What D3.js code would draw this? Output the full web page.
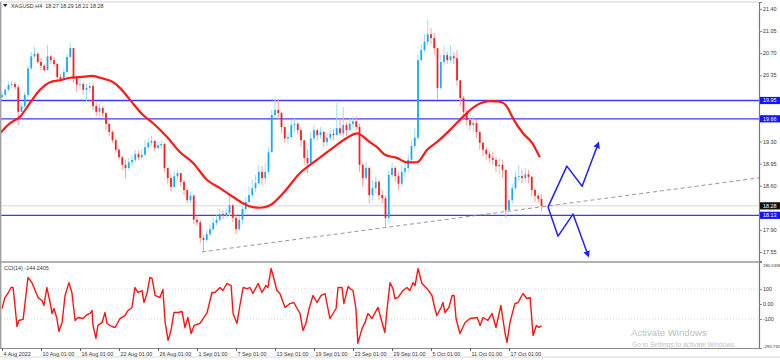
<!DOCTYPE html>
<html>
<head>
<meta charset="utf-8">
<script src="https://cdnjs.cloudflare.com/ajax/libs/d3/7.8.5/d3.min.js"></script>
<style>
  body { margin: 0; background: #fff; }
  svg text { font-family: "Liberation Sans", Arial, sans-serif; }
</style>
</head>
<body>
<div id="chart"></div>
<script>
// XAGUSD candles (each candle = 2 x H4), open = previous close
var firstOpen = 20.00;
var closes = [
  20.04, 20.12, 20.20, 20.21, 20.16, 19.77, 19.86, 20.04, 20.46, 20.65,
  20.69, 20.56, 20.50, 20.43, 20.65, 20.59, 20.53, 20.32, 20.29, 20.40,
  20.64, 20.78, 20.31, 20.20, 20.21, 20.12, 20.15, 20.18, 19.86, 19.77,
  19.83, 19.75, 19.58, 19.45, 19.32, 19.17, 19.05, 18.93, 18.88, 18.97,
  19.01, 19.10, 19.05, 19.09, 19.21, 19.28, 19.31, 19.20, 19.24, 19.26,
  18.88, 18.72, 18.58, 18.75, 18.80, 18.66, 18.53, 18.37, 18.44, 18.06,
  18.02, 17.77, 17.74, 17.83, 17.91, 18.01, 18.06, 18.15, 18.13, 18.17,
  18.29, 18.09, 17.91, 18.06, 18.23, 18.34, 18.45, 18.56, 18.64, 18.82,
  18.72, 18.82, 19.13, 19.72, 19.80, 19.75, 19.53, 19.35, 19.37, 19.56,
  19.58, 19.48, 19.32, 19.04, 18.96, 19.35, 19.48, 19.40, 19.45, 19.29,
  19.36, 19.42, 19.40, 19.51, 19.43, 19.56, 19.48, 19.58, 19.62, 19.53,
  18.93, 18.72, 18.88, 18.45, 18.56, 18.66, 18.45, 18.40, 18.09, 18.77,
  18.88, 18.75, 18.63, 18.82, 18.88, 19.01, 19.23, 19.36, 20.59, 20.75,
  20.88, 21.00, 20.94, 20.78, 20.15, 20.56, 20.67, 20.59, 20.65, 20.62,
  20.27, 19.99, 19.77, 19.64, 19.56, 19.59, 19.45, 19.28, 19.17, 19.10,
  19.04, 19.01, 18.91, 18.93, 18.85, 18.21, 18.37, 18.56, 18.74, 18.75,
  18.72, 18.78, 18.74, 18.53, 18.44, 18.39, 18.28
];
var highs = [
  20.08, 20.16, 20.24, 20.26, 20.24, 20.20, 19.91, 20.08, 20.51, 20.72,
  20.80, 20.72, 20.62, 20.53, 20.83, 20.67, 20.64, 20.54, 20.37, 20.46,
  20.69, 20.86, 20.78, 20.34, 20.29, 20.24, 20.21, 20.24, 20.23, 19.93,
  19.91, 19.86, 19.77, 19.59, 19.48, 19.36, 19.20, 19.07, 19.01, 19.04,
  19.09, 19.17, 19.15, 19.17, 19.32, 19.36, 19.39, 19.32, 19.31, 19.32,
  19.28, 18.85, 18.77, 18.82, 18.85, 18.78, 18.69, 18.56, 18.50, 18.47,
  18.12, 18.06, 17.82, 17.90, 17.99, 18.09, 18.13, 18.23, 18.21, 18.25,
  18.48, 18.31, 18.13, 18.12, 18.29, 18.42, 18.58, 18.69, 18.77, 18.93,
  18.91, 18.96, 19.21, 19.80, 20.00, 19.96, 19.77, 19.51, 19.45, 19.64,
  19.67, 19.61, 19.53, 19.32, 19.17, 19.45, 19.56, 19.51, 19.53, 19.47,
  19.45, 19.51, 19.50, 19.91, 19.67, 19.85, 19.61, 19.67, 19.70, 19.70,
  19.58, 18.96, 18.97, 18.90, 18.69, 18.74, 18.69, 18.53, 18.44, 18.85,
  18.96, 18.91, 18.82, 18.93, 18.97, 19.09, 19.32, 19.51, 20.67, 20.85,
  21.00, 21.23, 21.10, 21.02, 20.78, 20.67, 20.81, 20.72, 20.83, 20.72,
  20.75, 20.27, 20.02, 19.80, 19.69, 19.70, 19.64, 19.48, 19.29, 19.21,
  19.15, 19.13, 19.05, 19.04, 19.01, 18.85, 18.45, 18.63, 18.82, 18.93,
  18.85, 18.88, 18.85, 18.75, 18.56, 18.48, 18.46
];
var lows = [
  19.99, 20.02, 20.10, 20.15, 20.12, 19.56, 19.77, 19.83, 20.01, 20.43,
  20.62, 20.53, 20.43, 20.39, 20.43, 20.53, 20.48, 20.27, 20.24, 20.27,
  20.39, 20.62, 20.23, 20.08, 20.12, 20.04, 19.93, 20.08, 19.80, 19.70,
  19.69, 19.69, 19.48, 19.39, 19.28, 19.12, 19.01, 18.85, 18.72, 18.85,
  18.91, 18.97, 19.01, 19.01, 19.07, 19.17, 19.23, 19.15, 19.17, 19.17,
  18.82, 18.63, 18.50, 18.56, 18.69, 18.59, 18.45, 18.32, 18.32, 17.99,
  17.96, 17.69, 17.55, 17.71, 17.80, 17.88, 17.96, 18.02, 18.07, 18.09,
  18.12, 18.02, 17.83, 17.88, 17.99, 18.18, 18.32, 18.40, 18.50, 18.61,
  18.61, 18.63, 18.78, 19.13, 19.67, 19.64, 19.43, 19.28, 19.26, 19.35,
  19.45, 19.42, 19.21, 18.93, 18.80, 18.93, 19.29, 19.32, 19.34, 19.21,
  19.23, 19.31, 19.32, 19.42, 19.39, 19.37, 19.39, 19.47, 19.51, 19.47,
  18.82, 18.58, 18.69, 18.32, 18.37, 18.48, 18.37, 18.32, 17.94, 18.02,
  18.72, 18.66, 18.53, 18.59, 18.72, 18.82, 18.97, 19.20, 19.32, 20.56,
  20.72, 20.81, 20.85, 20.67, 19.96, 20.12, 20.50, 20.53, 20.56, 20.53,
  20.18, 19.86, 19.69, 19.55, 19.48, 19.45, 19.36, 19.17, 19.07, 19.01,
  18.96, 18.93, 18.82, 18.77, 18.72, 18.09, 18.18, 18.31, 18.53, 18.67,
  18.64, 18.66, 18.64, 18.44, 18.34, 18.32, 18.21
];

// moving average (red), read at bar positions
var maBar = [-0.6, 2.5, 5.5, 8.6, 11.7, 14.8, 17.8, 20.9, 24, 27.7, 30.2, 34.2, 36.3, 39.4, 43.4, 46.5,
  50.8, 54.8, 58.8, 63.1, 67.1, 71.1, 75.4, 77.2, 79.4, 82.5, 86.5, 91.7, 96.9, 101.8, 106.2, 109.2,
  113.2, 115.4, 117.8, 121.5, 124.6, 127.7, 130.8, 133.8, 137.8, 141.8, 146.2, 150.2, 153.2, 155.4,
  157.2, 160.3, 163.1, 165.5];
var maVal = [19.43, 19.59, 19.69, 19.91, 20.12, 20.24, 20.27, 20.31, 20.32, 20.34, 20.31, 20.24, 20.15, 19.96, 19.72, 19.59,
  19.37, 19.13, 18.96, 18.69, 18.56, 18.42, 18.29, 18.26, 18.25, 18.29, 18.48, 18.80, 19.01, 19.20, 19.36, 19.43,
  19.29, 19.21, 19.09, 19.04, 18.97, 18.97, 19.17, 19.29, 19.48, 19.69, 19.88, 19.94, 19.93, 19.85,
  19.67, 19.43, 19.28, 19.05];

// CCI(14)
var cciBar = [0, 0.9, 1.8, 2.8, 3.4, 4, 4.6, 5.2, 6.5, 7.1, 8, 9.2, 10.2, 11.1, 12.3, 12.9, 13.8, 14.8, 15.4, 16,
  16.9, 17.5, 18.5, 19.4, 20.6, 21.5, 22.5, 23.4, 24.9, 26.2, 27.1, 27.7, 28, 28.9, 29.5, 30.8, 31.7, 32.3, 33.8, 34.8,
  36.3, 37.8, 38.8, 40, 40.9, 41.8, 43.1, 43.7, 44.6, 45.5, 46.2, 47.1, 48.6, 49.5, 50.2, 51.1, 52, 52.9, 54.2, 55.4,
  56.3, 57.2, 58.2, 59.1, 60.9, 63.1, 64.6, 65.5, 67.1, 68, 69.2, 70.5, 71.1, 72.3, 73.2, 74.2, 75.4, 76.3, 77.2, 78.8,
  80, 81.2, 81.8, 82.8, 83.4, 84.6, 85.5, 87.1, 88.6, 89.8, 90.8, 91.7, 92.6, 93.5, 94.5, 95.7, 96.9, 98.2, 99.4, 100.9,
  102.8, 103.4, 104.6, 105.2, 106.5, 107.1, 108, 108.9, 109.5, 110.8, 111.7, 112.6, 113.8, 115.7, 116.6, 117.8, 118.5, 119.4, 120.3, 120.9,
  121.8, 123.4, 124.6, 125.5, 126.5, 127.1, 128, 129.2, 130.8, 132.3, 133.2, 133.8, 135.1, 135.7, 136.3, 137.5, 138.5, 139.1, 139.7, 140.9,
  142.5, 144, 146.2, 147.1, 148, 149.5, 150.8, 152, 153.5, 154.8, 155.4, 156.3, 157.8, 158.8, 160.3, 161.5, 162.5, 163.4, 164.4, 165.2,
  166];
var cciVal = [-30, 43, 70, 110, 110, -10, -150, -110, -103, 10, 177, 143, 90, 43, 23, -10, 110, 10, -63, -30,
  -97, -183, -123, 57, 143, 77, -110, -90, -97, -70, -63, -43, -143, -230, -143, -123, -57, -130, -150, -157,
  -97, -77, -43, -23, 110, 77, 90, 10, 70, 177, 170, 57, 43, 97, -123, -243, -177, -57, -57, -50,
  -157, -90, -197, -143, -130, -57, 77, 77, 110, 90, 137, 123, -63, -130, -10, 110, 103, 110, 70, 137,
  77, 123, 110, 237, 190, 90, 70, -23, 3, 10, -30, -63, -177, -130, -30, 57, 10, 57, 70, -97,
  -30, 110, 110, 3, 117, 103, 90, -30, -263, -163, -123, -63, -97, -23, -97, -190, -30, 143, 103, 37,
  43, 90, 110, 90, 143, 123, 237, 137, 103, 57, -30, -77, -23, 10, -57, -23, 57, 57, -97, -197,
  -123, -97, -90, -143, -90, -110, -63, -157, -10, -197, -257, -123, 3, 10, 70, 37, 43, -210, -143, -157,
  -144.2405];

var levels = [19.95, 19.66, 18.13];
var lastPrice = 18.28;
var priceTicks = [17.55, 17.90, 18.25, 18.60, 18.95, 19.30, 19.65, 20.00, 20.35, 20.70, 21.05, 21.40];
var cciTicks = [280.5396, 100, 0, -100, -293.732];
var cciTickLabels = ["280.5396", "100", "0.00", "-100", "-293.732"];
var timeTicks = [0, 12, 24, 36, 48, 60, 72, 84, 96, 108, 120, 132, 144, 156];
var timeLabels = ["4 Aug 2022", "10 Aug 01:00", "16 Aug 01:00", "22 Aug 01:00", "26 Aug 01:00", "1 Sep 01:00",
  "7 Sep 01:00", "13 Sep 01:00", "19 Sep 01:00", "23 Sep 01:00", "29 Sep 01:00", "5 Oct 01:00", "11 Oct 01:00", "17 Oct 01:00"];

// trend line anchors and projected paths
var trendBar = [61.5, 118.5];
var trendVal = [17.55, 17.94];
var upBar = [168, 173.8, 178.5, 183.4];
var upVal = [18.26, 18.91, 18.59, 19.26];
var downBar = [168, 171.1, 175.7, 180.3];
var downVal = [18.26, 17.80, 18.15, 17.50];

var svgWidth = 780;
var svgHeight = 360;
var plotLeft = 1, plotRight = 759;
var mainTop = 2, mainBottom = 262;
var cciTop = 262, cciBottom = 348;

var svg = d3.select("#chart")
  .append("svg")
  .attr("width", svgWidth)
  .attr("height", svgHeight);

var x = d3.scaleLinear().domain([0, 233]).range([2, 2 + 233 * 3.25]);
var y = d3.scaleLinear().domain([17.406, 21.511]).range([261, 2]);
var yCci = d3.scaleLinear().domain([-293.732, 280.5396]).range([cciBottom, cciTop]);

var defs = svg.append("defs");
defs.append("clipPath").attr("id", "clipMain")
  .append("rect").attr("x", plotLeft).attr("y", mainTop).attr("width", plotRight - plotLeft).attr("height", mainBottom - mainTop);
defs.append("clipPath").attr("id", "clipCci")
  .append("rect").attr("x", plotLeft).attr("y", cciTop).attr("width", plotRight - plotLeft).attr("height", cciBottom - cciTop);
defs.append("marker").attr("id", "arrowHead")
  .attr("viewBox", "0 0 10 10").attr("refX", 6).attr("refY", 5)
  .attr("markerWidth", 4.5).attr("markerHeight", 4.5).attr("orient", "auto")
  .append("path").attr("d", "M0,0 L10,5 L0,10 z").attr("fill", "#2020ff");

var main = svg.append("g").attr("clip-path", "url(#clipMain)");

// current price line
main.append("line")
  .attr("x1", plotLeft).attr("x2", plotRight)
  .attr("y1", y(lastPrice)).attr("y2", y(lastPrice))
  .attr("stroke", "#e4e4e4").attr("stroke-width", 1.5);

// horizontal levels
main.selectAll(".level").data(levels).enter().append("line")
  .attr("x1", plotLeft).attr("x2", plotRight)
  .attr("y1", d => y(d)).attr("y2", d => y(d))
  .attr("stroke", "#3a3aff").attr("stroke-width", 1.3);

// trend line, extended to the right edge
var slope = (trendVal[1] - trendVal[0]) / (trendBar[1] - trendBar[0]);
var endBar = x.domain()[1];
main.append("line")
  .attr("x1", x(trendBar[0])).attr("y1", y(trendVal[0]))
  .attr("x2", x(endBar)).attr("y2", y(trendVal[0] + slope * (endBar - trendBar[0])))
  .attr("stroke", "#8a8a8a").attr("stroke-width", 0.9).attr("stroke-dasharray", "4,3");

// candles
var candles = closes.map(function (c, i) {
  var o = i === 0 ? firstOpen : closes[i - 1];
  return { i: i, o: o, c: c, h: Math.max(highs[i], o, c), l: Math.min(lows[i], o, c) };
});
main.selectAll(".wick").data(candles).enter().append("line")
  .attr("x1", d => x(d.i)).attr("x2", d => x(d.i))
  .attr("y1", d => y(d.h)).attr("y2", d => y(d.l))
  .attr("stroke", d => d.c >= d.o ? "#9fdcff" : "#ffa0a0").attr("stroke-width", 1);
main.selectAll(".body").data(candles).enter().append("rect")
  .attr("x", d => x(d.i) - 0.9).attr("width", 1.8)
  .attr("y", d => y(Math.max(d.o, d.c)))
  .attr("height", d => Math.max(0.8, Math.abs(y(d.o) - y(d.c))))
  .attr("fill", d => d.c >= d.o ? "#18aaff" : "#ff1e1e");

// moving average
main.append("path")
  .datum(maBar.map((b, i) => [b, maVal[i]]))
  .attr("fill", "none").attr("stroke", "#ff1a1a").attr("stroke-width", 2.2)
  .attr("d", d3.line().x(d => x(d[0])).y(d => y(d[1])).curve(d3.curveMonotoneX));

// projected paths
[[upBar, upVal], [downBar, downVal]].forEach(function (p) {
  main.append("path")
    .datum(p[0].map((b, i) => [b, p[1][i]]))
    .attr("fill", "none").attr("stroke", "#2020ff").attr("stroke-width", 1.5)
    .attr("stroke-linejoin", "round")
    .attr("marker-end", "url(#arrowHead)")
    .attr("d", d3.line().x(d => x(d[0])).y(d => y(d[1])));
});

// CCI panel
var cci = svg.append("g").attr("clip-path", "url(#clipCci)");
cci.selectAll(".cciLevel").data([100, -100]).enter().append("line")
  .attr("x1", plotLeft).attr("x2", plotRight)
  .attr("y1", d => yCci(d)).attr("y2", d => yCci(d))
  .attr("stroke", "#c8c8c8").attr("stroke-width", 0.8).attr("stroke-dasharray", "1,2");
cci.append("path")
  .datum(cciBar.map((b, i) => [b, cciVal[i]]))
  .attr("fill", "none").attr("stroke", "#ff1414").attr("stroke-width", 1.4)
  .attr("stroke-linejoin", "round")
  .attr("d", d3.line().x(d => x(d[0])).y(d => yCci(d[1])));

// frames
svg.append("line").attr("x1", 0).attr("x2", plotRight).attr("y1", 2).attr("y2", 2).attr("stroke", "#d0d0d0");
svg.append("line").attr("x1", 0.7).attr("x2", 0.7).attr("y1", 2).attr("y2", cciBottom).attr("stroke", "#a0a0a0").attr("stroke-width", 1.4);
svg.append("line").attr("x1", 0).attr("x2", plotRight).attr("y1", mainBottom).attr("y2", mainBottom).attr("stroke", "#9a9a9a").attr("stroke-width", 1.5);
svg.append("line").attr("x1", 0).attr("x2", svgWidth).attr("y1", 357).attr("y2", 357).attr("stroke", "#d8d8d8");

// price axis (labels hidden under the boxed values are left out, as on the terminal)
var boxValues = levels.concat([lastPrice]);
var shownTicks = priceTicks.filter(t => boxValues.every(b => Math.abs(y(t) - y(b)) > 6));
svg.append("g")
  .attr("transform", `translate(${plotRight}, 0)`)
  .call(d3.axisRight(y).tickValues(shownTicks).tickSize(3).tickPadding(1).tickFormat(d3.format(".2f")));
svg.append("g")
  .attr("class", "cciAxis")
  .attr("transform", `translate(${plotRight}, 0)`)
  .call(d3.axisRight(yCci).tickValues(cciTicks).tickSize(3).tickPadding(1).tickFormat((d, i) => cciTickLabels[i]));
svg.selectAll(".domain").attr("stroke", "#777").attr("stroke-width", 1.2);
svg.selectAll(".tick line").attr("stroke", "#888");
svg.selectAll(".tick text").attr("font-size", 5.4).attr("fill", "#333").attr("font-family", "Liberation Sans, Arial, sans-serif");
svg.select(".cciAxis").selectAll(".tick text")
  .attr("dy", (d, i) => i === 0 ? "0.95em" : (i === cciTicks.length - 1 ? "-0.1em" : "0.32em"))
  .attr("font-size", (d, i) => (i === 0 || i === cciTicks.length - 1) ? 4.3 : 5.4);

// boxed labels on price axis
var boxes = levels.map(v => ({ v: v, fill: "#1414ff" })).concat([{ v: lastPrice, fill: "#101010" }]);
var boxG = svg.selectAll(".box").data(boxes).enter().append("g")
  .attr("transform", d => `translate(${plotRight + 1}, ${y(d.v)})`);
boxG.append("rect").attr("x", 0).attr("y", -3.6).attr("width", 20).attr("height", 7.2).attr("fill", d => d.fill);
boxG.append("text").attr("x", 3).attr("y", 2).attr("font-size", 5.4).attr("fill", "#fff")
  .text(d => d3.format(".2f")(d.v));

// time axis
svg.append("g")
  .attr("transform", `translate(0, ${cciBottom})`)
  .call(d3.axisBottom(x).tickValues(timeTicks).tickSize(3).tickPadding(1).tickFormat((d, i) => timeLabels[i]))
  .call(g => g.select(".domain").attr("stroke", "#8a8a8a").attr("d", `M0,0.5H${plotRight}`))
  .call(g => g.selectAll(".tick line").attr("stroke", "#666"))
  .call(g => g.selectAll(".tick text").attr("text-anchor", "start").attr("dx", 1)
    .attr("font-size", 5.4).attr("fill", "#333"));

// header texts
svg.append("path").attr("d", "M3,4 L7.5,4 L5.25,7 z").attr("fill", "#222");
svg.append("text").attr("x", 11).attr("y", 7.5).attr("font-size", 5.4).attr("fill", "#333")
  .attr("xml:space", "preserve").text("XAGUSD,H4  18.27 18.29 18.21 18.28");
svg.append("text").attr("x", 4).attr("y", 270).attr("font-size", 5.4).attr("fill", "#333")
  .text("CCI(14) -144.2405");

// windows watermark
svg.append("text").attr("x", 631).attr("y", 336).attr("font-size", 9.6).attr("fill", "#bdbdbd")
  .attr("font-family", "Open Sans, sans-serif").text("Activate Windows");
svg.append("text").attr("x", 632).attr("y", 346.5).attr("font-size", 6.6).attr("fill", "#c4c4c4")
  .attr("font-family", "Open Sans, sans-serif").text("Go to Settings to activate Windows.");
</script>
</body>
</html>
